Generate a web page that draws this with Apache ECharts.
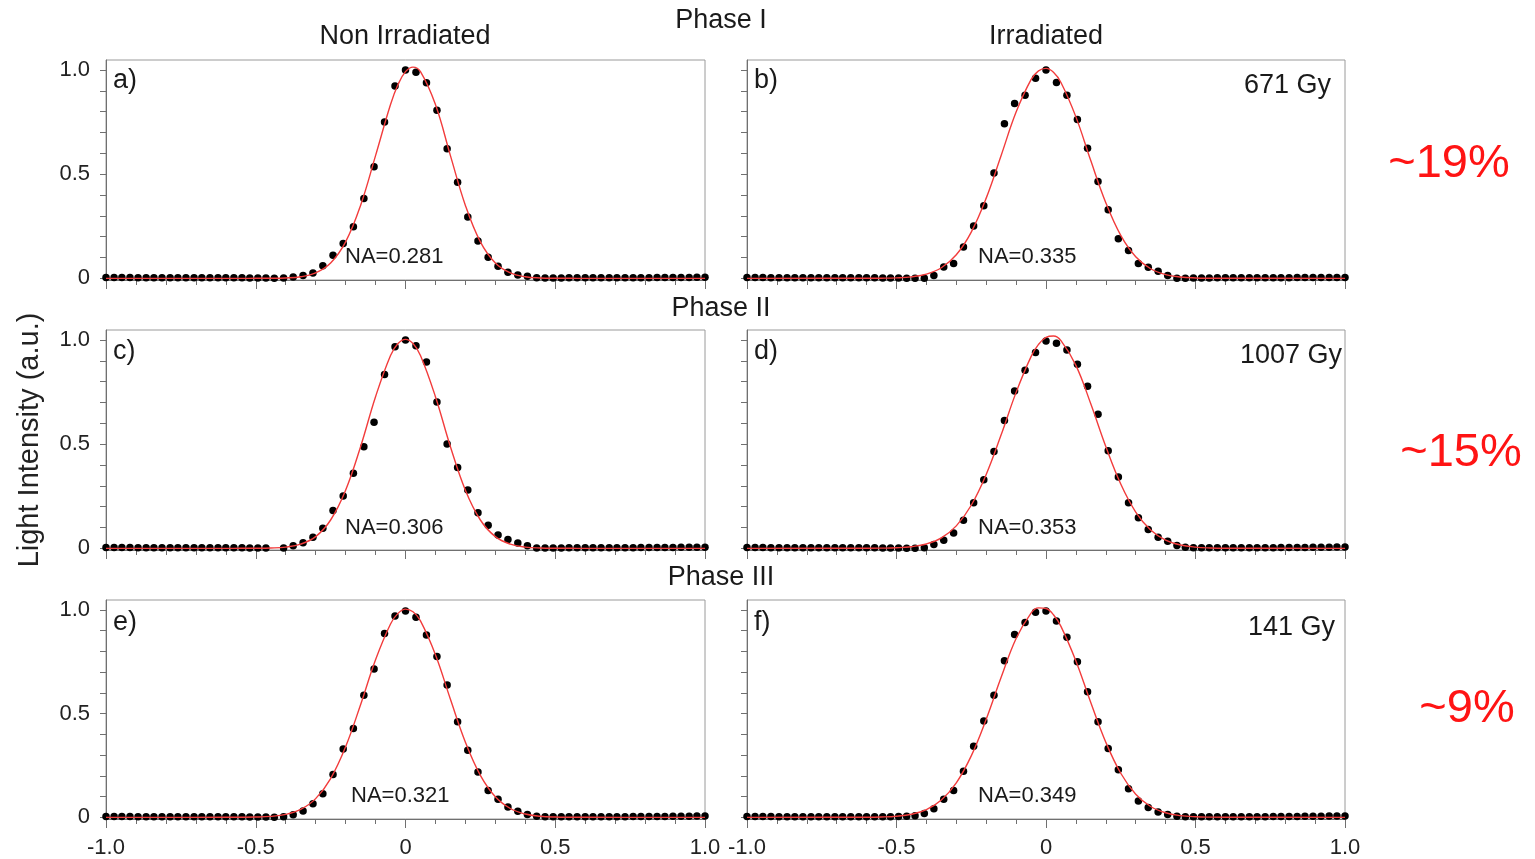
<!DOCTYPE html>
<html>
<head>
<meta charset="utf-8">
<title>Light intensity profiles</title>
<script src="https://cdn.jsdelivr.net/npm/echarts@6/dist/echarts.min.js"></script>
<style>
  html, body { margin: 0; padding: 0; background: #ffffff; }
  #chart { width: 1535px; height: 859px; }
</style>
</head>
<body>
<div id="chart"></div>
<script>
// ---- Sampling positions of the measured far-field profiles (shared by all panels) ----
const xLeftTail = [-1.000, -0.973, -0.947, -0.920, -0.893, -0.866, -0.840, -0.813, -0.786, -0.760, -0.733,
                   -0.706, -0.680, -0.653, -0.626, -0.600, -0.573, -0.546, -0.520, -0.493, -0.466];
const xCore = [-0.438, -0.407, -0.375, -0.342, -0.309, -0.276, -0.242, -0.208, -0.174, -0.139, -0.105, -0.070, -0.035,
               0, 0.035, 0.070, 0.105, 0.139, 0.174, 0.208, 0.242, 0.276, 0.309, 0.342, 0.375, 0.407, 0.438];
const xRightTail = [0.466, 0.493, 0.520, 0.546, 0.573, 0.600, 0.626, 0.653, 0.680, 0.706, 0.733,
                    0.760, 0.786, 0.813, 0.840, 0.866, 0.893, 0.920, 0.947, 0.973, 1.000];

// ---- Measured normalised intensity (tail + core + tail) ----
const profileA = [
  0.004, 0.004, 0.004, 0.004, 0.003, 0.003, 0.003, 0.003, 0.003, 0.003, 0.003, 0.003, 0.003, 0.003, 0.003, 0.003, 0.003, 0.003, 0.002, 0.002, 0.002,
  0.001, 0.002, 0.006, 0.014, 0.026, 0.061, 0.111, 0.167, 0.248, 0.383, 0.536, 0.750, 0.923, 1.000, 0.989, 0.939, 0.807, 0.622, 0.461, 0.295, 0.179, 0.101, 0.058, 0.029, 0.016, 0.010, 0.003,
  0.002, 0.002, 0.002, 0.003, 0.003, 0.003, 0.003, 0.003, 0.003, 0.003, 0.003, 0.003, 0.003, 0.003, 0.004, 0.004, 0.004, 0.004, 0.004, 0.005, 0.005
];
const profileB = [
  0.004, 0.004, 0.004, 0.003, 0.003, 0.003, 0.003, 0.003, 0.003, 0.003, 0.003, 0.003, 0.003, 0.003, 0.003, 0.003, 0.003, 0.002, 0.002, 0.002, 0.001,
  0.000, 0.000, 0.014, 0.055, 0.071, 0.151, 0.251, 0.348, 0.506, 0.742, 0.839, 0.879, 0.960, 1.000, 0.940, 0.879, 0.762, 0.625, 0.465, 0.329, 0.190, 0.134, 0.071, 0.053, 0.034, 0.014, 0.000,
  0.001, 0.002, 0.002, 0.002, 0.003, 0.003, 0.003, 0.003, 0.003, 0.003, 0.003, 0.003, 0.003, 0.003, 0.004, 0.004, 0.004, 0.004, 0.004, 0.004, 0.004
];
const profileC = [
  0.004, 0.004, 0.004, 0.004, 0.003, 0.003, 0.003, 0.003, 0.003, 0.003, 0.003, 0.003, 0.003, 0.003, 0.003, 0.003, 0.003, 0.003, 0.002, 0.002, 0.002,
  null, 0.002, 0.013, 0.027, 0.053, 0.097, 0.182, 0.251, 0.361, 0.488, 0.605, 0.834, 0.968, 1.000, 0.973, 0.894, 0.702, 0.501, 0.388, 0.280, 0.171, 0.111, 0.064, 0.042, 0.026, 0.013, 0.002,
  0.002, 0.002, 0.002, 0.003, 0.003, 0.003, 0.003, 0.003, 0.003, 0.003, 0.003, 0.003, 0.004, 0.004, 0.004, 0.004, 0.004, 0.005, 0.005, 0.005, 0.005
];
const profileD = [
  0.004, 0.004, 0.004, 0.003, 0.003, 0.003, 0.003, 0.003, 0.003, 0.003, 0.003, 0.003, 0.003, 0.003, 0.003, 0.003, 0.003, 0.002, 0.002, 0.002, 0.001,
  0.001, 0.003, 0.018, 0.039, 0.074, 0.135, 0.219, 0.329, 0.465, 0.614, 0.755, 0.855, 0.940, 0.995, 0.984, 0.952, 0.884, 0.778, 0.644, 0.469, 0.343, 0.219, 0.147, 0.090, 0.053, 0.034, 0.014,
  0.005, 0.003, 0.003, 0.003, 0.003, 0.003, 0.003, 0.003, 0.003, 0.003, 0.003, 0.003, 0.004, 0.004, 0.004, 0.004, 0.005, 0.005, 0.005, 0.006, 0.006
];
const profileE = [
  0.004, 0.004, 0.004, 0.004, 0.003, 0.003, 0.003, 0.003, 0.003, 0.003, 0.003, 0.003, 0.003, 0.003, 0.003, 0.003, 0.003, 0.003, 0.002, 0.002, 0.002,
  0.001, 0.003, 0.013, 0.031, 0.066, 0.114, 0.206, 0.329, 0.428, 0.589, 0.715, 0.887, 0.971, 0.995, 0.965, 0.879, 0.776, 0.638, 0.461, 0.324, 0.219, 0.130, 0.087, 0.050, 0.029, 0.014, 0.005,
  0.003, 0.003, 0.003, 0.003, 0.003, 0.003, 0.003, 0.003, 0.003, 0.003, 0.003, 0.004, 0.004, 0.004, 0.004, 0.004, 0.005, 0.005, 0.005, 0.006, 0.006
];
const profileF = [
  0.004, 0.004, 0.004, 0.004, 0.003, 0.003, 0.003, 0.003, 0.003, 0.003, 0.003, 0.003, 0.003, 0.003, 0.003, 0.003, 0.003, 0.003, 0.003, 0.004, 0.005,
  0.008, 0.018, 0.042, 0.087, 0.130, 0.222, 0.343, 0.464, 0.589, 0.755, 0.882, 0.940, 0.989, 0.995, 0.947, 0.868, 0.750, 0.605, 0.461, 0.332, 0.230, 0.138, 0.079, 0.048, 0.026, 0.014, 0.005,
  0.003, 0.003, 0.003, 0.003, 0.003, 0.003, 0.003, 0.003, 0.003, 0.003, 0.003, 0.004, 0.004, 0.004, 0.004, 0.005, 0.005, 0.005, 0.006, 0.006, 0.006
];

// ---- Fitted curves (red), sampled on a common grid ----
const fitX = [-1, -0.6, -0.55, -0.5, -0.45, -0.4, -0.35, -0.3, -0.25, -0.2, -0.15, -0.1, -0.05, -0.025,
              0, 0.025, 0.05, 0.1, 0.15, 0.2, 0.25, 0.3, 0.35, 0.4, 0.45, 0.5, 0.55, 0.6, 1];
const fitA = [0, 0, 0, 0.0001, 0.0004, 0.0019, 0.0077, 0.0259, 0.0734, 0.1748, 0.350, 0.589, 0.834, 0.930,
              0.992, 1.014, 0.992, 0.834, 0.589, 0.350, 0.1748, 0.0734, 0.0259, 0.0077, 0.0019, 0.0004, 0.0001, 0, 0];
const fitB = [0, 0.0001, 0.0006, 0.0022, 0.0071, 0.0202, 0.0509, 0.1131, 0.2221, 0.385, 0.590, 0.798, 0.954, 0.996,
              1.008, 0.989, 0.940, 0.775, 0.564, 0.363, 0.206, 0.1035, 0.0459, 0.0180, 0.0062, 0.0019, 0.0005, 0.0001, 0];
const fitC = [0, 0, 0.0001, 0.0003, 0.0015, 0.006, 0.020, 0.056, 0.136, 0.279, 0.488, 0.728, 0.926, 0.983,
              1.003, 0.983, 0.926, 0.728, 0.488, 0.279, 0.136, 0.056, 0.020, 0.006, 0.0015, 0.0003, 0.0001, 0, 0];
const fitD = [0, 0.0002, 0.0008, 0.0026, 0.0079, 0.0210, 0.0503, 0.1078, 0.2068, 0.3548, 0.5448, 0.7486, 0.9203, 0.979,
              1.0127, 1.019, 0.997, 0.8784, 0.6926, 0.4886, 0.3084, 0.1742, 0.0881, 0.0398, 0.0161, 0.0058, 0.0019, 0.0006, 0];
const fitE = [0, 0.0001, 0.0003, 0.0013, 0.0046, 0.0141, 0.0381, 0.0902, 0.1871, 0.3404, 0.5432, 0.760, 0.9326, 0.9835,
              1.004, 0.991, 0.9475, 0.7843, 0.5694, 0.3625, 0.2025, 0.0992, 0.0426, 0.0160, 0.0053, 0.0015, 0.0004, 0.0001, 0];
const fitF = [0, 0.0005, 0.0017, 0.0054, 0.0151, 0.0375, 0.0836, 0.1665, 0.2966, 0.473, 0.675, 0.862, 0.985, 1.010,
              1.007, 0.977, 0.921, 0.754, 0.5526, 0.3623, 0.2125, 0.1116, 0.0524, 0.0220, 0.0083, 0.0028, 0.0008, 0.0002, 0];

// ---- Axis ticks and labels ----
const xMajorTicks = [-1.0, -0.5, 0, 0.5, 1.0];
const yMinorTicks = [0, 0.1, 0.2, 0.3, 0.4, 0.5, 0.6, 0.7, 0.8, 0.9, 1.0];
const yLabelValues = [0, 0.5, 1.0];

// ---- Panel annotations ----
const panelTags = ['a)', 'b)', 'c)', 'd)', 'e)', 'f)'];
const naValues = ['NA=0.281', 'NA=0.335', 'NA=0.306', 'NA=0.353', 'NA=0.321', 'NA=0.349'];
const doses = ['671 Gy', '1007 Gy', '141 Gy'];
const phases = ['Phase I', 'Phase II', 'Phase III'];
const columnTitles = ['Non Irradiated', 'Irradiated'];
const changes = ['~19%', '~15%', '~9%'];

const profiles = [profileA, profileB, profileC, profileD, profileE, profileF];
const fits = [fitA, fitB, fitC, fitD, fitE, fitF];
const xSamples = xLeftTail.concat(xCore, xRightTail);

// ---- Layout (pixels) ----
const FONT = '"Liberation Sans", Arial, sans-serif';
const gridLeft = [106, 747];
const gridWidth = [599, 598];
const gridTop = [60, 330, 600];
const gridHeight = 220;

const fmt = v => (v === 0 ? '0' : v.toFixed(1));

const grids = [], xAxes = [], yAxes = [], series = [];
for (let i = 0; i < 6; i++) {
  const row = Math.floor(i / 2), col = i % 2;
  grids.push({
    left: gridLeft[col], top: gridTop[row], width: gridWidth[col], height: gridHeight,
    show: true, borderColor: '#9a9a9a', borderWidth: 1, backgroundColor: 'transparent'
  });
  xAxes.push({
    gridIndex: i, type: 'value', min: -1, max: 1, interval: 0.5,
    axisLine: { show: true, onZero: false, lineStyle: { color: '#707070', width: 1 } },
    axisTick: { show: true, length: 9, lineStyle: { color: '#707070' } },
    minorTick: { show: true, splitNumber: 5, length: 5, lineStyle: { color: '#707070' } },
    axisLabel: {
      show: row === 2, margin: 18, fontSize: 22, fontFamily: FONT, color: '#222',
      customValues: xMajorTicks, formatter: fmt
    },
    splitLine: { show: false }, minorSplitLine: { show: false }
  });
  const yAxis = {
    gridIndex: i, type: 'value', min: -0.008, max: 1.048,
    axisLine: { show: true, onZero: false, lineStyle: { color: '#707070', width: 1 } },
    axisTick: { show: true, length: 6, customValues: yMinorTicks, lineStyle: { color: '#707070' } },
    axisLabel: {
      show: col === 0, margin: 16, fontSize: 22, fontFamily: FONT, color: '#222',
      customValues: yLabelValues, formatter: fmt
    },
    splitLine: { show: false }
  };
  if (i === 2) {
    yAxis.name = 'Light Intensity (a.u.)';
    yAxis.nameLocation = 'middle';
    yAxis.nameGap = 62;
    yAxis.nameTextStyle = { fontSize: 29, fontFamily: FONT, color: '#222' };
  }
  yAxes.push(yAxis);

  const pts = [];
  profiles[i].forEach((v, k) => { if (v !== null) pts.push([xSamples[k], v]); });
  series.push({
    type: 'scatter', xAxisIndex: i, yAxisIndex: i, data: pts,
    symbol: 'circle', symbolSize: 7.5, itemStyle: { color: '#000000', opacity: 1 }, silent: true, z: 2
  });
  series.push({
    type: 'line', xAxisIndex: i, yAxisIndex: i, data: fitX.map((x, k) => [x, fits[i][k]]),
    smooth: 0.4, showSymbol: false, symbol: 'none',
    lineStyle: { color: '#f23c3c', width: 1.4 }, silent: true, z: 3
  });
}

// ---- Free text: titles, panel tags, NA values, doses, percentages ----
const graphic = [];
const txt = (x, y, text, size, color, align, vAlign) => ({
  type: 'text', x: x, y: y, silent: true,
  style: { text: text, fontSize: size, fontFamily: FONT, fill: color, align: align || 'center', verticalAlign: vAlign || 'middle' }
});
graphic.push(txt(405, 37, columnTitles[0], 27, '#1a1a1a'));
graphic.push(txt(1046, 37, columnTitles[1], 27, '#1a1a1a'));
graphic.push(txt(721, 21, phases[0], 27, '#1a1a1a'));
graphic.push(txt(721, 309, phases[1], 27, '#1a1a1a'));
graphic.push(txt(721, 578, phases[2], 27, '#1a1a1a'));

const tagPos = [[113, 81], [754, 81], [113, 352], [754, 352], [113, 623], [754, 623]];
panelTags.forEach((t, i) => graphic.push(txt(tagPos[i][0], tagPos[i][1], t, 27, '#1a1a1a', 'left')));

const naPos = [[345, 257], [978, 257], [345, 528], [978, 528], [351, 796], [978, 796]];
naValues.forEach((t, i) => graphic.push(txt(naPos[i][0], naPos[i][1], t, 22, '#1a1a1a', 'left')));

const dosePos = [[1331, 86], [1342, 356], [1335, 628]];
doses.forEach((t, i) => graphic.push(txt(dosePos[i][0], dosePos[i][1], t, 27, '#1a1a1a', 'right')));

const changePos = [[1449, 164], [1461, 453], [1467, 709]];
changes.forEach((t, i) => graphic.push(txt(changePos[i][0], changePos[i][1], t, 47, '#ff1414')));

const chart = echarts.init(document.getElementById('chart'), null, { renderer: 'canvas' });
chart.setOption({
  backgroundColor: '#ffffff',
  animation: false,
  grid: grids,
  xAxis: xAxes,
  yAxis: yAxes,
  series: series,
  graphic: graphic
});
</script>
</body>
</html>
